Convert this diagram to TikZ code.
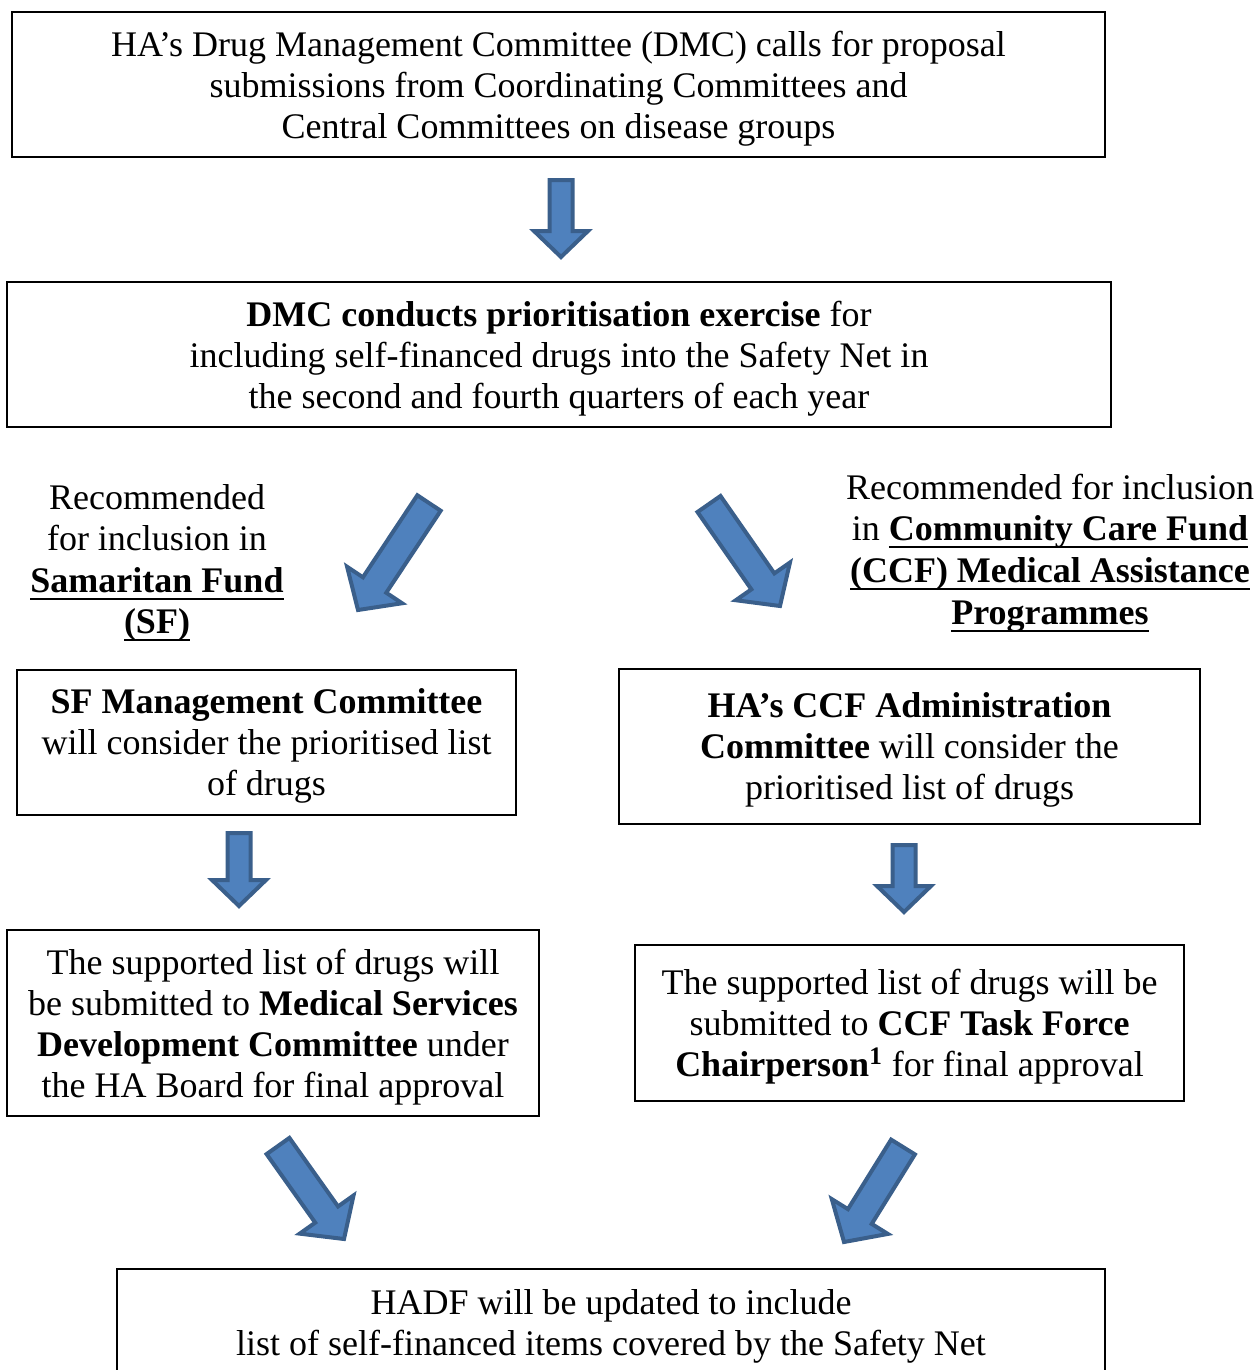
\documentclass[tikz,border=0pt]{standalone}
\usepackage{fontspec}
\setmainfont{Liberation Serif}
\usetikzlibrary{calc}
\definecolor{arrfill}{HTML}{4F81BD}
\definecolor{arrline}{HTML}{3A5F8B}
\newcommand\ulbf[1]{\setbox0\hbox{\textbf{#1}}\rlap{\rule[-3.8pt]{\wd0}{1pt}}\box0}
\tikzset{
 box/.style={draw=black, line width=0.9pt, inner sep=0pt, align=center, text depth=0pt, font=\fontsize{18}{20.5}\selectfont},
 lbl/.style={inner sep=0pt, align=center, text depth=0pt, font=\fontsize{18}{20.8}\selectfont},
 barrow/.style={fill=arrfill, draw=arrline, line width=2pt, line join=miter},
}
% tail, tip, shaft half width, head half width, head length
\newcommand\blockarrow[5]{%
 \coordinate (n) at ($(#2)!#5!(#1)$);
 \draw[barrow] ($(#1)!#3!90:(#2)$) -- ($(n)!#3!90:(#2)$) -- ($(n)!#4!90:(#2)$) -- (#2)
   -- ($(n)!#4!-90:(#2)$) -- ($(n)!#3!-90:(#2)$) -- ($(#1)!#3!-90:(#2)$) -- cycle;}
\begin{document}
\begin{tikzpicture}[x=0.5pt,y=-0.5pt]
\useasboundingbox (0,0) rectangle (1258,1370);
\clip (0,0) rectangle (1258,1370);

\node[box, minimum width=546.5pt, minimum height=72.5pt] (call) at (558.5,84.5)
 {HA’s Drug Management Committee (DMC) calls for proposal\\
  submissions from Coordinating Committees and\\
  Central Committees on disease groups};

\node[box, minimum width=552pt, minimum height=72.5pt] (prio) at (559,354.5)
 {\textbf{DMC conducts prioritisation exercise} for\\
  including self-financed drugs into the Safety Net in\\
  the second and fourth quarters of each year};

\node[lbl] (sflbl) at (157,559)
 {Recommended\\ for inclusion in\\ \ulbf{Samaritan Fund}\\ \ulbf{(SF)}};

\node[lbl] (ccflbl) at (1050,549)
 {Recommended for inclusion\\ in \ulbf{Community Care Fund}\\ \ulbf{(CCF) Medical Assistance}\\ \ulbf{Programmes}};

\node[box, minimum width=249.5pt, minimum height=72.5pt] (sfmc) at (266.5,742.5)
 {\textbf{SF Management Committee}\\ will consider the prioritised list\\ of drugs};

\node[box, minimum width=290.5pt, minimum height=77.5pt] (ccfac) at (909.5,746.5)
 {\textbf{HA’s CCF Administration}\\ \textbf{Committee} will consider the\\ prioritised list of drugs};

\node[box, minimum width=266pt, minimum height=93pt] (msdc) at (273,1023)
 {The supported list of drugs will\\ be submitted to \textbf{Medical Services}\\ \textbf{Development Committee} under\\ the HA Board for final approval};

\node[box, minimum width=274.5pt, minimum height=78pt] (ccftf) at (909.5,1023)
 {The supported list of drugs will be\\ submitted to \textbf{CCF Task Force}\\ \textbf{Chairperson\textsuperscript{1}} for final approval};

\node[box, minimum width=494pt, minimum height=53pt] (hadf) at (611,1322)
 {HADF will be updated to include\\ list of self-financed items covered by the Safety Net};

% arrow end points
\coordinate (a1t) at (561,180); \coordinate (a1h) at (561,257);
\coordinate (a2t) at (429,503); \coordinate (a2h) at (358,610);
\coordinate (a3t) at (709,504); \coordinate (a3h) at (780,606);
\coordinate (a4t) at (239,833); \coordinate (a4h) at (239,906);
\coordinate (a5t) at (904,845); \coordinate (a5h) at (904,912);
\coordinate (a6t) at (278,1146); \coordinate (a6h) at (344,1239);
\coordinate (a7t) at (903,1147); \coordinate (a7h) at (844,1242);

\blockarrow{a1t}{a1h}{5.75pt}{13.5pt}{13pt}
\blockarrow{a2t}{a2h}{7pt}{16.5pt}{15pt}
\blockarrow{a3t}{a3h}{7pt}{16.5pt}{15pt}
\blockarrow{a4t}{a4h}{5.75pt}{13.5pt}{13pt}
\blockarrow{a5t}{a5h}{5.75pt}{13.5pt}{13pt}
\blockarrow{a6t}{a6h}{7pt}{16.5pt}{15pt}
\blockarrow{a7t}{a7h}{7pt}{16.5pt}{15pt}
\end{tikzpicture}
\end{document}
